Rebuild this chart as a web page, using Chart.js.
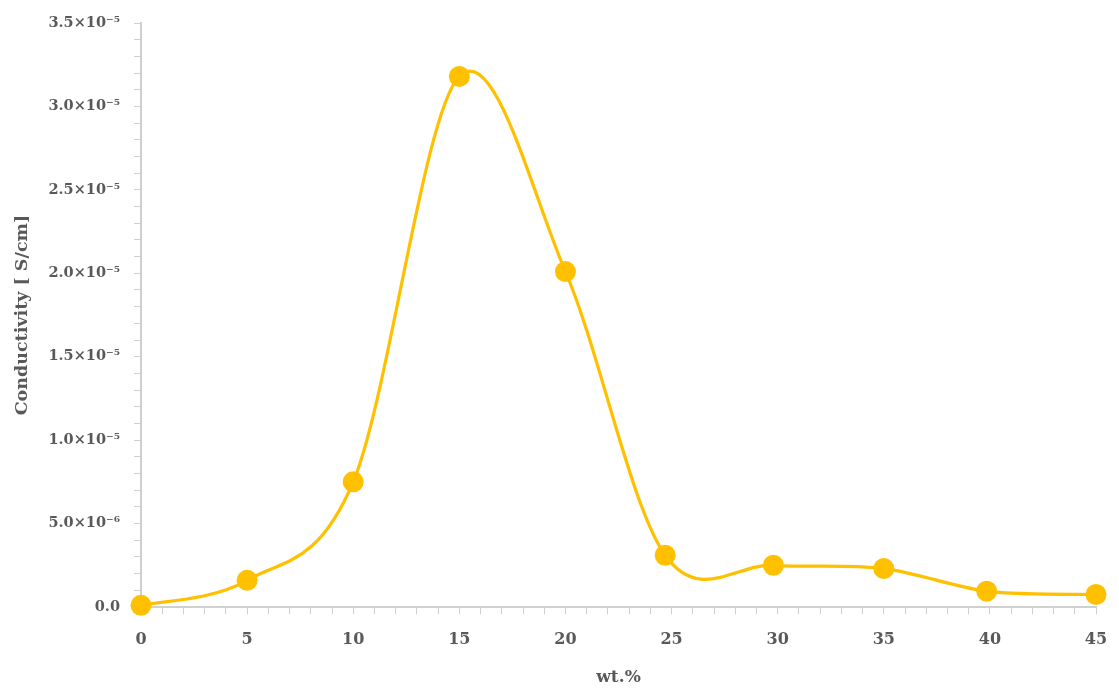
<!DOCTYPE html>
<html>
<head>
<meta charset="utf-8">
<script src="https://cdn.jsdelivr.net/npm/chart.js@4/dist/chart.umd.min.js"></script>
<style>
  html, body { margin: 0; padding: 0; background: #fff; }
  #wrap { width: 1119px; height: 694px; }
</style>
</head>
<body>
<div id="wrap"><canvas id="chart" width="1119" height="694"></canvas></div>
<script>
// values
const wtPercent = [0, 5, 10, 15, 20, 24.7, 29.8, 35, 39.85, 45];
const conductivity = [1e-7, 1.6e-6, 7.5e-6, 3.18e-5, 2.01e-5, 3.1e-6, 2.5e-6, 2.3e-6, 0.95e-6, 0.75e-6];

const xTickLabels = ['0', '5', '10', '15', '20', '25', '30', '35', '40', '45'];
const yTickLabels = ['0.0', '5.0×10⁻⁶', '1.0×10⁻⁵', '1.5×10⁻⁵', '2.0×10⁻⁵', '2.5×10⁻⁵', '3.0×10⁻⁵', '3.5×10⁻⁵'];

const gold = '#FFC000';
const textGrey = '#595959';
const axisGrey = '#d0d0d0';
const fontFamily = '"DejaVu Serif", serif';

const points = wtPercent.map((x, i) => ({ x: x, y: conductivity[i] }));

// spreadsheet-style smoothing: control points at 1/6 of the neighbour chord,
// not scaled by segment length like the built-in tension
const evenSmoothing = {
    id: 'evenSmoothing',
    beforeDatasetDraw(chart, args) {
        const meta = args.meta;
        const line = meta.dataset;
        line.updateControlPoints(chart.chartArea, meta.indexAxis);
        const pts = meta.data;
        pts.forEach((p, i) => {
            const prev = pts[i - 1] || p;
            const next = pts[i + 1] || p;
            const dx = (next.x - prev.x) / 6;
            const dy = (next.y - prev.y) / 6;
            p.cp1x = p.x - dx;
            p.cp1y = p.y - dy;
            p.cp2x = p.x + dx;
            p.cp2y = p.y + dy;
        });
        line._path = undefined;
    },
};

new Chart(document.getElementById('chart'), {
    type: 'scatter',
    data: {
        datasets: [
            {
                data: points,
                showLine: true,
                tension: 0.3,
                borderColor: gold,
                borderWidth: 3.2,
                backgroundColor: gold,
                pointBackgroundColor: gold,
                pointBorderColor: gold,
                pointBorderWidth: 0,
                pointRadius: 10.5,
                pointHoverRadius: 10.5,
                clip: false,
            },
        ],
    },
    plugins: [evenSmoothing],
    options: {
        responsive: false,
        animation: false,
        layout: { padding: { top: 23, right: 23, left: 0, bottom: 0 } },
        plugins: {
            legend: { display: false },
            tooltip: { enabled: false },
        },
        scales: {
            x: {
                type: 'linear',
                min: 0,
                max: 45,
                afterFit: (s) => {
                    s.height = 87;
                    s.paddingLeft = 0;
                    s.paddingRight = 0;
                },
                border: { color: axisGrey, width: 2 },
                grid: { drawOnChartArea: false, tickLength: 7, color: axisGrey, tickColor: axisGrey },
                ticks: {
                    stepSize: 1,
                    autoSkip: false,
                    maxRotation: 0,
                    padding: 16,
                    color: textGrey,
                    font: { family: fontFamily, size: 16, weight: 'bold' },
                    callback: (v) => (Math.round(v) % 5 === 0 ? xTickLabels[Math.round(v) / 5] : ''),
                },
                title: {
                    display: true,
                    text: 'wt.%',
                    color: textGrey,
                    padding: { top: 8, bottom: 6 },
                    font: { family: fontFamily, size: 17, weight: 'bold' },
                },
            },
            y: {
                type: 'linear',
                min: 0,
                max: 3.5e-5,
                afterFit: (s) => { s.width = 141; },
                border: { color: axisGrey, width: 2 },
                grid: { drawOnChartArea: false, tickLength: 7, color: axisGrey, tickColor: axisGrey },
                ticks: {
                    stepSize: 1e-6,
                    autoSkip: false,
                    padding: 14,
                    color: textGrey,
                    font: { family: fontFamily, size: 14.5, weight: 'bold' },
                    callback: (v) => {
                        const n = Math.round(v * 1e6);
                        return n % 5 === 0 ? yTickLabels[n / 5] : '';
                    },
                },
                title: {
                    display: true,
                    text: 'Conductivity [ S/cm]',
                    color: textGrey,
                    padding: { top: 12, bottom: 4 },
                    font: { family: fontFamily, size: 17.5, weight: 'bold' },
                },
            },
        },
    },
});
</script>
</body>
</html>
